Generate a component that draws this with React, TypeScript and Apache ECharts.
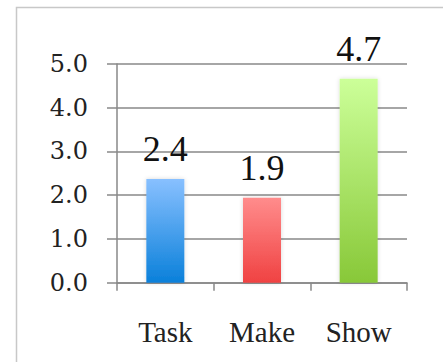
import React, { useEffect, useRef } from "react";
import * as echarts from "echarts";

const categories = ["Task", "Make", "Show"];
const values = [2.37, 1.94, 4.66];
const topColors = ["#88c0ff", "#ff8c8c", "#ccff99"];
const bottomColors = ["#0a80da", "#f04242", "#88c838"];
const yTicks = { min: 0, max: 5, interval: 1 };

export default function App() {
  const ref = useRef<HTMLDivElement>(null);
  useEffect(() => {
    if (!ref.current) return;
    const chart = echarts.init(ref.current, null, { renderer: "svg" });
    chart.setOption({
      animation: false,
      backgroundColor: "#ffffff",
      graphic: [
        {
          type: "rect",
          shape: { x: 16.5, y: 7.5, width: 600, height: 600 },
          style: { fill: "none", stroke: "#c8c8c8", lineWidth: 1.5 },
          silent: true,
        },
      ],
      grid: { left: 117, right: 36, top: 64, bottom: 79.3 },
      xAxis: {
        type: "category",
        data: categories,
        axisLine: { show: true, lineStyle: { color: "#888", width: 1.5 } },
        axisTick: { show: true, length: 8, lineStyle: { color: "#888", width: 1.5 } },
        axisLabel: {
          margin: 35,
          fontFamily: "Liberation Serif",
          fontSize: 29,
          color: "#222",
        },
      },
      yAxis: {
        type: "value",
        min: yTicks.min,
        max: yTicks.max,
        interval: yTicks.interval,
        axisLine: { show: true, lineStyle: { color: "#888", width: 1.5 } },
        axisTick: { show: true, length: 10, lineStyle: { color: "#888", width: 1.5 } },
        splitLine: { show: true, lineStyle: { color: "#888", width: 1.5 } },
        axisLabel: {
          margin: 29,
          fontFamily: "DejaVu Serif",
          fontSize: 24,
          color: "#222",
          formatter: (v: number) => v.toFixed(1),
        },
      },
      series: [
        {
          type: "bar",
          barWidth: 38,
          data: values.map((v, i) => ({
            value: v,
            itemStyle: {
              color: new echarts.graphic.LinearGradient(0, 0, 0, 1, [
                { offset: 0, color: topColors[i] },
                { offset: 1, color: bottomColors[i] },
              ]),
              shadowColor: "rgba(0,0,0,0.15)",
              shadowBlur: 4,
            },
          })),
          label: {
            show: true,
            position: "top",
            distance: 12,
            fontFamily: "Liberation Serif",
            fontSize: 36,
            color: "#111",
            formatter: (p: any) => Number(p.value).toFixed(1),
          },
        },
      ],
    });
    return () => chart.dispose();
  }, []);
  return (
    <div
      ref={ref}
      style={{ position: "absolute", left: 0, top: 0, width: 443, height: 362 }}
    />
  );
}
